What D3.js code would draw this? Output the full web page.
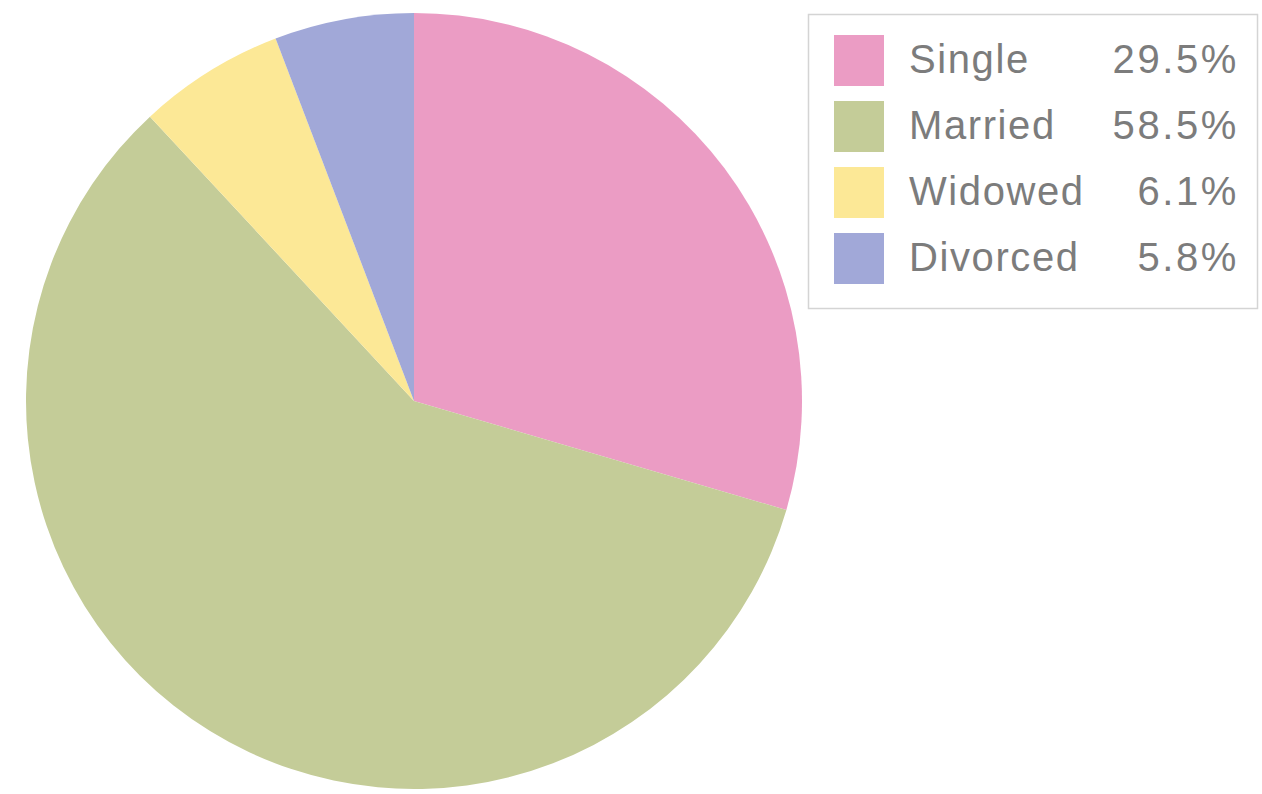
<!DOCTYPE html>
<html>
<head>
<meta charset="utf-8">
<script src="https://cdn.jsdelivr.net/npm/d3@7"></script>
<style>
  html, body { margin: 0; padding: 0; background: #ffffff; }
  svg { display: block; }
</style>
</head>
<body>
<svg id="chart" width="1262" height="794"></svg>
<script>
const categories = ["Single", "Married", "Widowed", "Divorced"];
const values = [29.5, 58.5, 6.1, 5.8];
const valueLabels = ["29.5%", "58.5%", "6.1%", "5.8%"];
const colors = ["#eb9cc4", "#c4cc98", "#fce896", "#a1a8d8"];

const svg = d3.select("#chart");
const cx = 414, cy = 401, radius = 388;

const data = categories.map((c, i) => ({ name: c, value: values[i], label: valueLabels[i], color: colors[i] }));

const pie = d3.pie().value(d => d.value).sort(null);
const arc = d3.arc().innerRadius(0).outerRadius(radius);

const g = svg.append("g").attr("transform", `translate(${cx},${cy})`);
g.selectAll("path")
  .data(pie(data))
  .join("path")
  .attr("d", arc)
  .attr("fill", d => d.data.color);

// Legend
const lg = svg.append("g");
lg.append("rect")
  .attr("x", 808.5).attr("y", 14.5)
  .attr("width", 449).attr("height", 294)
  .attr("fill", "#ffffff")
  .attr("stroke", "#d4d4d4")
  .attr("stroke-width", 1.5);

const rowY = d3.scalePoint().domain(categories).range([35, 233]);
const rows = lg.selectAll("g.row").data(data).join("g").attr("class", "row")
  .attr("transform", d => `translate(0,${rowY(d.name)})`);
rows.append("rect")
  .attr("x", 834).attr("y", 0)
  .attr("width", 50).attr("height", 51)
  .attr("fill", d => d.color);
rows.append("text")
  .attr("x", 909).attr("y", 38)
  .attr("font-family", "Liberation Sans, Arial, sans-serif")
  .attr("font-size", 40)
  .attr("letter-spacing", "1.6px")
  .attr("fill", "#7c7c7c")
  .text(d => d.name);
rows.append("text")
  .attr("x", 1239).attr("y", 38)
  .attr("text-anchor", "end")
  .attr("font-family", "Liberation Sans, Arial, sans-serif")
  .attr("font-size", 40)
  .attr("letter-spacing", "2.6px")
  .attr("fill", "#7c7c7c")
  .text(d => d.label);
</script>
</body>
</html>
